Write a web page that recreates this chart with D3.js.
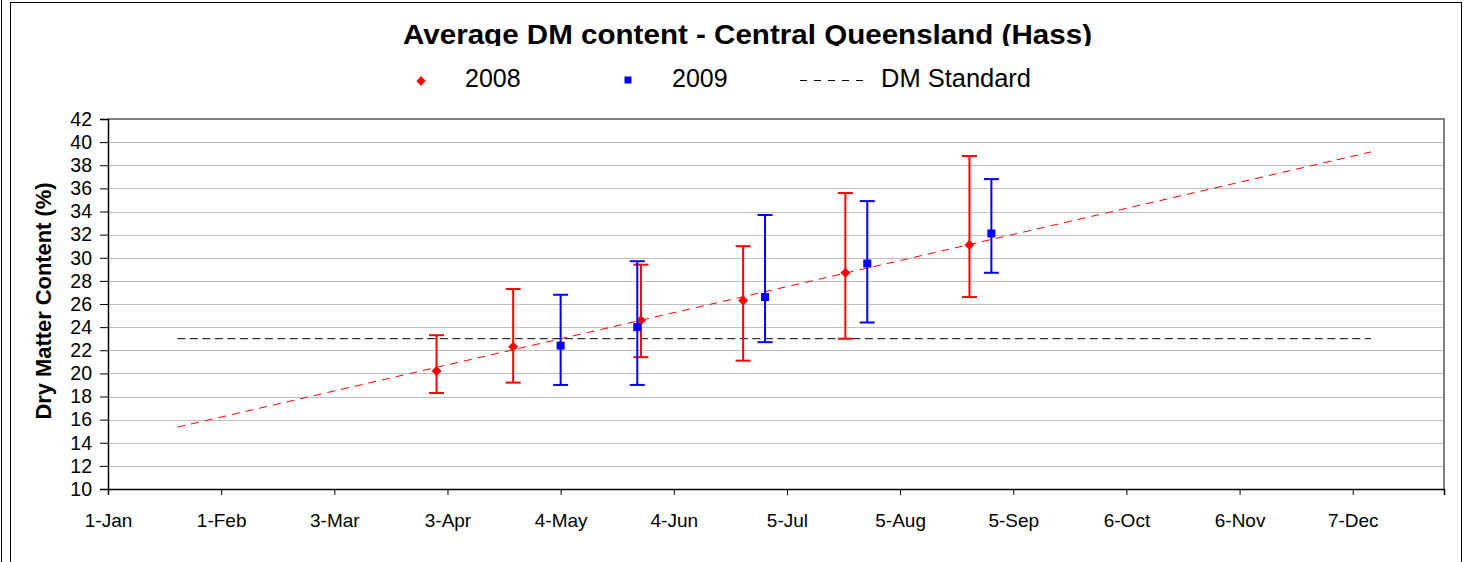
<!DOCTYPE html>
<html>
<head>
<meta charset="utf-8">
<script src="https://cdn.jsdelivr.net/npm/d3@7"></script>
<style>
  html, body { margin: 0; padding: 0; background: #fff; }
  svg { display: block; font-family: "Liberation Sans", Arial, sans-serif; }
</style>
</head>
<body>
<svg id="chart" width="1471" height="562"></svg>
<script>
// ---- data ----
const title = "Average DM content - Central Queensland (Hass)";
const yTitle = "Dry Matter Content (%)";
const seriesNames = ["2008", "2009", "DM Standard"];

// sample dates (month-day, plotted on a one-year date axis)
const dates2008 = ["03-31", "04-21", "05-26", "06-23", "07-21", "08-24"];
const dm2008    = [20.2, 22.3, 24.6, 26.3, 28.7, 31.1];
const dm2008Hi  = [23.3, 27.3, 29.4, 31.0, 35.6, 38.8];
const dm2008Lo  = [18.3, 19.2, 21.4, 21.1, 23.0, 26.6];

const dates2009 = ["05-04", "05-25", "06-29", "07-27", "08-30"];
const dm2009    = [22.4, 24.0, 26.6, 29.5, 32.1];
const dm2009Hi  = [26.8, 29.7, 33.7, 34.9, 36.8];
const dm2009Lo  = [19.0, 19.0, 22.7, 24.4, 28.7];

// linear trend of 2008 and DM standard (start / end)
const trendDates = ["01-20", "12-12"];
const trendValues = [15.35, 39.15];
const standardDates = ["01-20", "12-12"];
const standardValues = [23, 23];

const xTickDates = ["01-01", "02-01", "03-03", "04-03", "05-04", "06-04",
                    "07-05", "08-05", "09-05", "10-06", "11-06", "12-07"];
const xDomain = ["2008-01-01", "2009-01-01"];
const yTicks = [10, 12, 14, 16, 18, 20, 22, 24, 26, 28, 30, 32, 34, 36, 38, 40, 42];

// ---- setup ----
const parse = d3.utcParse("%Y-%m-%d");
const md = s => parse("2008-" + s);
const svg = d3.select("#chart");

const L = 108, R = 1444, T = 119, B = 489;
const x = d3.scaleUtc().domain(xDomain.map(parse)).range([L, R]);
const y = d3.scaleLinear().domain([10, 42]).range([B, T]);

// outer frame
svg.append("rect").attr("x", 10.5).attr("y", 2.5).attr("width", 1451).attr("height", 600)
  .attr("fill", "none").attr("stroke", "#000").attr("stroke-width", 1);
svg.append("line").attr("x1", 1.5).attr("x2", 1.5).attr("y1", 0).attr("y2", 562)
  .attr("stroke", "#000").attr("stroke-width", 1);

// gridlines
svg.append("g").selectAll("line").data(yTicks.slice(1, -1)).join("line")
  .attr("x1", L).attr("x2", R)
  .attr("y1", d => Math.round(y(d)) + 0.5).attr("y2", d => Math.round(y(d)) + 0.5)
  .attr("stroke", "#c0c0c0").attr("stroke-width", 1);

// plot border top / right
svg.append("path")
  .attr("d", `M${L},${T} H${R} V${B}`)
  .attr("fill", "none").attr("stroke", "#808080").attr("stroke-width", 2);

// y axis
const yAxis = svg.append("g").attr("transform", `translate(${L},0)`)
  .call(d3.axisLeft(y).tickValues(yTicks).tickSize(8).tickPadding(8).tickFormat(d3.format("d")));
yAxis.select(".domain").attr("stroke", "#000").attr("stroke-width", 1.5);
yAxis.selectAll(".tick line").attr("stroke", "#000");
yAxis.selectAll("text").attr("font-size", 19.5).attr("fill", "#000")
  .attr("font-family", "Liberation Sans, Arial, sans-serif");

// x axis
const xAxis = svg.append("g").attr("transform", `translate(0,${B})`)
  .call(d3.axisBottom(x).tickValues(xTickDates.map(md)).tickSize(6)
        .tickFormat(d3.utcFormat("%-d-%b")));
xAxis.select(".domain").attr("stroke", "#000").attr("stroke-width", 1.5);
xAxis.selectAll(".tick line").attr("stroke", "#000");
xAxis.selectAll("text").attr("font-size", 19).attr("fill", "#000")
  .attr("font-family", "Liberation Sans, Arial, sans-serif")
  .attr("dy", null).attr("y", 38);

// y axis title
svg.append("text")
  .attr("transform", "translate(51,301) rotate(-90)")
  .attr("text-anchor", "middle").attr("font-weight", "bold").attr("font-size", 22.5)
  .attr("textLength", 237).attr("lengthAdjust", "spacingAndGlyphs")
  .text(yTitle);

// DM standard line
const line = d3.line().x(d => x(md(d[0]))).y(d => y(d[1]));
svg.append("path").datum(d3.zip(standardDates, standardValues))
  .attr("d", line).attr("fill", "none").attr("stroke", "#000")
  .attr("stroke-width", 1).attr("stroke-dasharray", "8,4.5");

// trend line
svg.append("path").datum(d3.zip(trendDates, trendValues))
  .attr("d", line).attr("fill", "none").attr("stroke", "#ff0000")
  .attr("stroke-width", 1).attr("stroke-dasharray", "8,6");

// error bars + markers
function drawSeries(dates, vals, hi, lo, color, shape) {
  const g = svg.append("g");
  const data = dates.map((d, i) => ({ d: md(d), v: vals[i], hi: hi[i], lo: lo[i] }));
  g.selectAll(".eb").data(data).join("line")
    .attr("x1", d => x(d.d)).attr("x2", d => x(d.d))
    .attr("y1", d => y(d.hi)).attr("y2", d => y(d.lo))
    .attr("stroke", color).attr("stroke-width", 2);
  g.selectAll(".cap-hi").data(data).join("line")
    .attr("x1", d => x(d.d) - 7.5).attr("x2", d => x(d.d) + 7.5)
    .attr("y1", d => y(d.hi)).attr("y2", d => y(d.hi))
    .attr("stroke", color).attr("stroke-width", 2);
  g.selectAll(".cap-lo").data(data).join("line")
    .attr("x1", d => x(d.d) - 7.5).attr("x2", d => x(d.d) + 7.5)
    .attr("y1", d => y(d.lo)).attr("y2", d => y(d.lo))
    .attr("stroke", color).attr("stroke-width", 2);
  g.selectAll(".mk").data(data).join("path")
    .attr("transform", d => `translate(${x(d.d)},${y(d.v)})`)
    .attr("d", shape).attr("fill", color);
}
const diamond = "M0,-5 L5,0 L0,5 L-5,0 Z";
const square = "M-4,-4 H4 V4 H-4 Z";
drawSeries(dates2008, dm2008, dm2008Hi, dm2008Lo, "#ff0000", diamond);
drawSeries(dates2009, dm2009, dm2009Hi, dm2009Lo, "#0000ff", square);

// title
svg.append("text").attr("x", 747.5).attr("y", 43.5)
  .attr("text-anchor", "middle").attr("font-weight", "bold").attr("font-size", 28)
  .attr("textLength", 689).attr("lengthAdjust", "spacingAndGlyphs")
  .text(title);

// legend (white box clips title bottom as in the original)
const leg = svg.append("g");
leg.append("rect").attr("x", 380).attr("y", 46).attr("width", 730).attr("height", 52).attr("fill", "#fff");
leg.append("path").attr("transform", "translate(421,81)").attr("d", "M0,-5 L4.5,0 L0,5 L-4.5,0 Z").attr("fill", "#ff0000");
leg.append("text").attr("x", 465).attr("y", 87).attr("font-size", 25).text(seriesNames[0]);
leg.append("path").attr("transform", "translate(628,80)").attr("d", "M-3.5,-3.5 H3.5 V3.5 H-3.5 Z").attr("fill", "#0000ff");
leg.append("text").attr("x", 672).attr("y", 87).attr("font-size", 25).text(seriesNames[1]);
leg.append("line").attr("x1", 800).attr("x2", 870).attr("y1", 80.5).attr("y2", 80.5)
  .attr("stroke", "#000").attr("stroke-width", 1).attr("stroke-dasharray", "7,7");
leg.append("text").attr("x", 881).attr("y", 87).attr("font-size", 25)
  .attr("textLength", 150).attr("lengthAdjust", "spacingAndGlyphs").text(seriesNames[2]);
</script>
</body>
</html>
